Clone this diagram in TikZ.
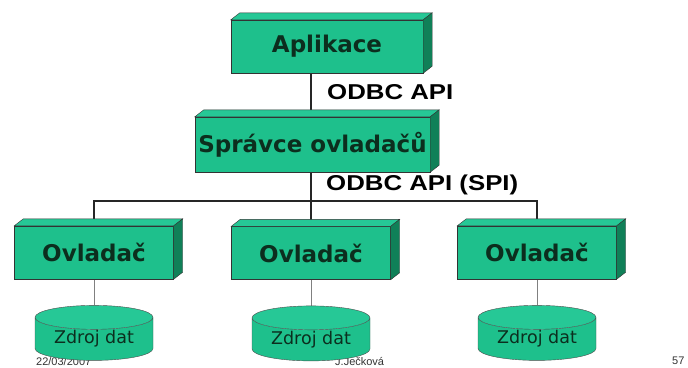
\documentclass[tikz,border=0pt]{standalone}
\usepackage{fontspec}
\setmainfont{DejaVu Sans}
\newfontfamily\apifont[FakeStretch=1.2]{Liberation Sans}
\newfontfamily\footfont{Liberation Sans}
\usetikzlibrary{positioning,shapes.geometric,backgrounds}
\definecolor{boxgreen}{RGB}{30,192,140}
\definecolor{boxtop}{RGB}{38,200,150}
\definecolor{boxside}{RGB}{16,128,88}
\definecolor{boxtext}{RGB}{12,46,30}

\begin{document}
\begin{tikzpicture}[x=1pt, y=-1pt,
		box/.style = {draw=black!80, fill=boxgreen, rectangle, inner sep=0pt, text=boxtext, font=\bfseries\fontsize{23}{27}\selectfont},
		driver/.style = {box, minimum width=159pt, minimum height=53pt},
		db/.style = {draw=black!70, cylinder, shape border rotate=90, aspect=0.3, cylinder uses custom fill, cylinder body fill=boxgreen, cylinder end fill=boxtop, minimum width=118pt, minimum height=55pt, inner sep=0pt, text=boxtext, font=\fontsize{17.5}{20}\selectfont},
		api/.style = {anchor=west, inner sep=0pt, font=\apifont\bfseries\fontsize{21.5}{24}\selectfont},
		foot/.style = {anchor=north west, inner sep=0pt, text=black!80, font=\footfont\fontsize{11}{13}\selectfont},
		link/.style = {draw=black!85, line width=1.3pt},
		dblink/.style = {draw=black!50, line width=0.8pt}]
		\clip (0,0) rectangle (688,367);
		\useasboundingbox (0,0) rectangle (688,367);
		% footer
		\node[foot] (date) at (36,357) {22/03/2007};
		\node[foot] (name) at (335,357) {J.Ječková};
		\node[foot] (page) at (672,357) {57};
		% boxes
		\node[box, minimum width=192pt, minimum height=53pt] (app) at (327,46.5) {Aplikace};
		\node[box, minimum width=235pt, minimum height=55pt] (mgr) at (312.5,144.5) {Správce ovladačů};
		\node[driver] (drv1) at (94,252.5) {Ovladač};
		\node[driver] (drv2) at (311,253) {Ovladač};
		\node[driver] (drv3) at (537,252.5) {Ovladač};
		\foreach \n in {app,mgr,drv1,drv2,drv3} {
			\filldraw[fill=boxtop, draw=black!80] (\n.north west) -- ++(9,-7) -- ([shift={(9,-7)}]\n.north east) -- (\n.north east) -- cycle;
			\filldraw[fill=boxside, draw=black!80] (\n.north east) -- ++(9,-7) -- ([shift={(9,-7)}]\n.south east) -- (\n.south east) -- cycle;
		}
		% data sources
		\node[db] (db1) [below=26pt of drv1] {Zdroj dat};
		\node[db] (db2) [below=26pt of drv2] {Zdroj dat};
		\node[db] (db3) [below=26pt of drv3] {Zdroj dat};
		% labels
		\node[api] (api1) at (327,92) {ODBC API};
		\node[api] (api2) at (326,185) {ODBC API (SPI)};
		% connectors
		\coordinate (bus) at (0,201);
		\begin{scope}[on background layer]
			\path[link] (drv2.north |- app.south) -- (drv2.north);
			\path[link] (drv1.north) -- (drv1.north |- bus) -- (drv3.north |- bus) -- (drv3.north);
			\path[dblink]
				(drv1.south) edge (db1.north)
				(drv2.south) edge (db2.north)
				(drv3.south) edge (db3.north);
		\end{scope}
	\end{tikzpicture}
\end{document}
